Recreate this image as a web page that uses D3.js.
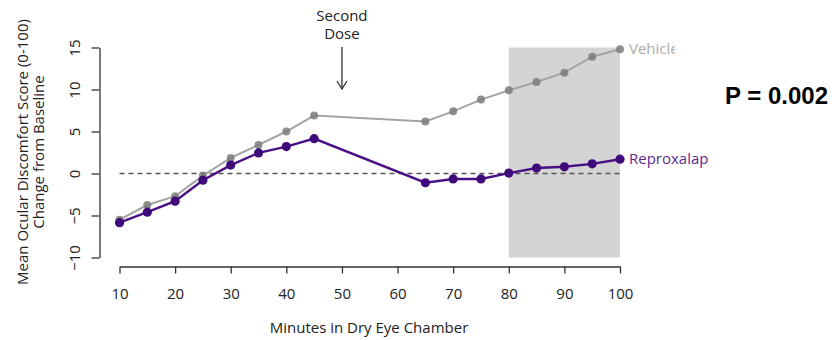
<!DOCTYPE html>
<html>
<head>
<meta charset="utf-8">
<script src="https://cdn.jsdelivr.net/npm/d3@7"></script>
<style>
  body { margin: 0; background: #fff; }
  svg { display: block; font-family: "Open Sans", sans-serif; }
  .axis path, .axis line { stroke: #333; stroke-width: 1.3; }
  .axis text { fill: #222; font-size: 15px; font-family: "Open Sans", sans-serif; }
</style>
</head>
<body>
<svg width="834" height="340"></svg>
<script>
var minutes = [10, 15, 20, 25, 30, 35, 40, 45, 65, 70, 75, 80, 85, 90, 95, 100];
var vehicle = [-5.5, -3.75, -2.7, -0.25, 1.85, 3.4, 5.0, 6.9, 6.2, 7.4, 8.8, 9.9, 10.9, 12.0, 13.9, 14.8];
var reproxalap = [-5.85, -4.6, -3.3, -0.8, 1.0, 2.45, 3.2, 4.15, -1.1, -0.65, -0.65, 0.05, 0.65, 0.8, 1.15, 1.7];
var xTicks = [10, 20, 30, 40, 50, 60, 70, 80, 90, 100];
var yTicks = [-10, -5, 0, 5, 10, 15];
var windowRange = [80, 100];
var doseAt = 50;

var svg = d3.select("svg");

var x = d3.scaleLinear().domain([10, 100]).range([119.5, 620]),
    y = d3.scaleLinear().domain([-10, 15]).range([257.5, 47.5]);

var series = [
  {id: "Vehicle", values: vehicle, line: "#a3a3a3", dot: "#7d7d7d", label: "#ababab", width: 2, r: 4, clip: true},
  {id: "Reproxalap", values: reproxalap, line: "#4b0f85", dot: "#3f0a7a", label: "#5b2a8f", width: 2.4, r: 4.6, clip: false}
];

// shaded window
svg.append("rect")
    .attr("x", x(windowRange[0]))
    .attr("y", y(15))
    .attr("width", x(windowRange[1]) - x(windowRange[0]))
    .attr("height", y(-10) - y(15))
    .attr("fill", "#d4d4d4");

// baseline
svg.append("line")
    .attr("x1", x(10)).attr("x2", x(100))
    .attr("y1", y(0)).attr("y2", y(0))
    .attr("stroke", "#555")
    .attr("stroke-width", 1.3)
    .attr("stroke-dasharray", "5,4");

// axes
svg.append("g")
    .attr("class", "axis")
    .attr("transform", "translate(0,266.5)")
    .call(d3.axisBottom(x).tickValues(xTicks).tickSize(7).tickSizeOuter(0).tickPadding(15));

var yAxis = svg.append("g")
    .attr("class", "axis")
    .attr("transform", "translate(99.5,0)")
    .call(d3.axisLeft(y).tickValues(yTicks).tickSize(8).tickSizeOuter(0));

yAxis.selectAll("text")
    .attr("x", null).attr("dy", null)
    .attr("text-anchor", "middle")
    .attr("transform", "translate(-20,0) rotate(-90)");

// titles
svg.append("text")
    .attr("x", 369).attr("y", 333)
    .attr("text-anchor", "middle")
    .attr("font-size", 15)
    .attr("fill", "#222")
    .text("Minutes in Dry Eye Chamber");

var yTitle = svg.append("text")
    .attr("transform", "translate(0,152) rotate(-90)")
    .attr("text-anchor", "middle")
    .attr("font-size", 15)
    .attr("fill", "#222");
yTitle.append("tspan").attr("x", 0).attr("y", 28).text("Mean Ocular Discomfort Score (0-100)");
yTitle.append("tspan").attr("x", 0).attr("y", 44).text("Change from Baseline");

// second dose marker
var dose = svg.append("text")
    .attr("text-anchor", "middle")
    .attr("font-size", 15)
    .attr("fill", "#222");
dose.append("tspan").attr("x", x(doseAt)).attr("y", 21).text("Second");
dose.append("tspan").attr("x", x(doseAt)).attr("y", 39).text("Dose");

svg.append("line")
    .attr("x1", x(doseAt)).attr("x2", x(doseAt))
    .attr("y1", 47).attr("y2", 89)
    .attr("stroke", "#333").attr("stroke-width", 1.3);
svg.append("path")
    .attr("d", "M" + (x(doseAt) - 5) + ",81L" + x(doseAt) + ",89L" + (x(doseAt) + 5) + ",81")
    .attr("fill", "none")
    .attr("stroke", "#333").attr("stroke-width", 1.3);

// lines and dots
var line = d3.line()
    .x(function(d) { return x(d.t); })
    .y(function(d) { return y(d.v); });

var grp = svg.selectAll(".series")
  .data(series)
  .enter().append("g")
    .attr("class", "series");

grp.append("path")
    .attr("fill", "none")
    .attr("stroke", function(d) { return d.line; })
    .attr("stroke-width", function(d) { return d.width; })
    .attr("d", function(d) { return line(d.values.map(function(v, i) { return {t: minutes[i], v: v}; })); });

grp.selectAll("circle")
  .data(function(d) { return d.values.map(function(v, i) { return {t: minutes[i], v: v, s: d}; }); })
  .enter().append("circle")
    .attr("cx", function(d) { return x(d.t); })
    .attr("cy", function(d) { return y(d.v); })
    .attr("r", function(d) { return d.s.r; })
    .attr("fill", function(d) { return d.s.dot; })
    .attr("fill-opacity", function(d) { return d.s.id == "Vehicle" ? 0.85 : 1; });

// end labels (vehicle label is cut off in the original)
svg.append("clipPath").attr("id", "lab-clip")
  .append("rect").attr("x", 0).attr("y", 0).attr("width", 675).attr("height", 340);

svg.selectAll(".end-label")
  .data(series)
  .enter().append("text")
    .attr("class", "end-label")
    .attr("clip-path", function(d) { return d.clip ? "url(#lab-clip)" : null; })
    .attr("x", x(100) + 9)
    .attr("y", function(d) { return y(d.values[d.values.length - 1]); })
    .attr("dy", "0.35em")
    .attr("font-size", 15)
    .attr("fill", function(d) { return d.label; })
    .text(function(d) { return d.id; });

svg.append("text")
    .attr("x", 725).attr("y", 104)
    .attr("font-family", "Liberation Sans, Arial, sans-serif")
    .attr("font-weight", "bold")
    .attr("font-size", 24)
    .attr("fill", "#000")
    .text("P = 0.002");
</script>
</body>
</html>
